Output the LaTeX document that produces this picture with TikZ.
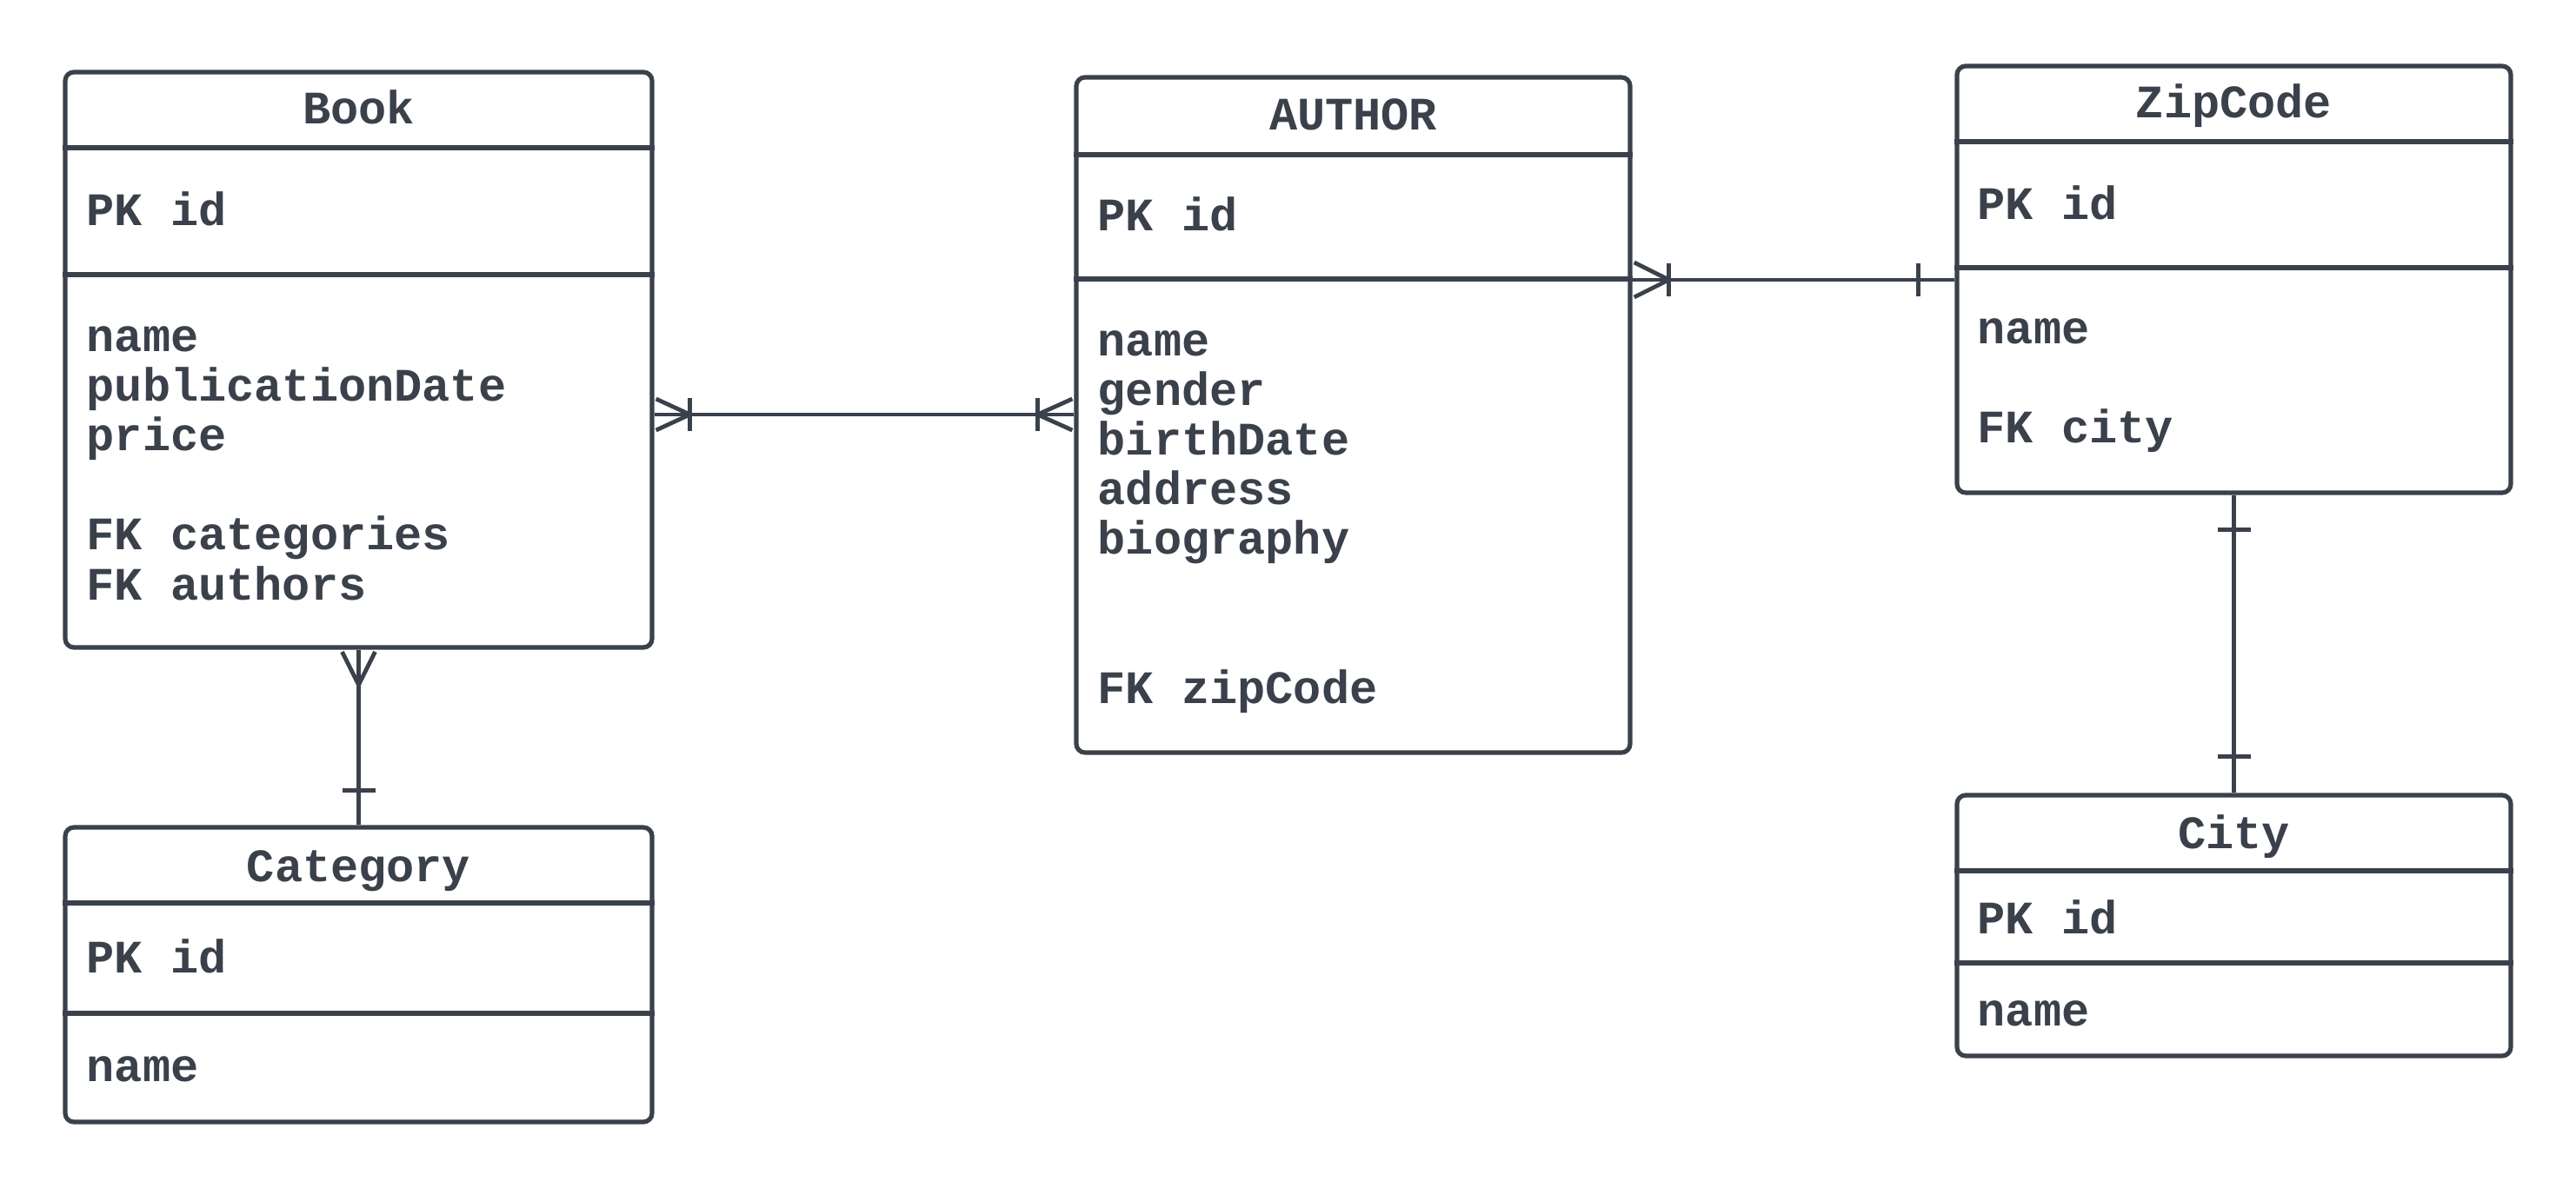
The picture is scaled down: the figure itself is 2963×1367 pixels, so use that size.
\documentclass[tikz,border=0pt]{standalone}
\usepackage{fontspec}
\setmainfont{Liberation Mono}
\usetikzlibrary{fit}
\definecolor{ink}{RGB}{58,65,75}
\tikzset{
  tbl/.style={draw=ink, line width=1.3pt, rounded corners=2.5pt, inner sep=0pt, fill=none},
  div/.style={draw=ink, line width=1.3pt},
  conn/.style={draw=ink, line width=1.2pt},
  ttl/.style={anchor=base, inner sep=0pt, text=ink, font=\bfseries\fontsize{13.4}{14.25}\selectfont},
  attr/.style={anchor=base west, inner sep=0pt, text=ink, font=\bfseries\fontsize{13.4}{14.25}\selectfont}
}
\begin{document}
\begin{tikzpicture}[x=0.25pt, y=-0.25pt]
\useasboundingbox (0,0) rectangle (2963,1367);
% tables
\node[tbl, fit={(75,83) (750,745)}] (book) {};
\node[tbl, fit={(1238,89) (1875,866)}] (author) {};
\node[tbl, fit={(2251,76) (2888,567)}] (zip) {};
\node[tbl, fit={(75,952) (750,1291)}] (cat) {};
\node[tbl, fit={(2251,915) (2888,1215)}] (city) {};
% dividers
\draw[div] (book.west |- 0,170) -- (book.east |- 0,170);
\draw[div] (book.west |- 0,316) -- (book.east |- 0,316);
\draw[div] (author.west |- 0,178) -- (author.east |- 0,178);
\draw[div] (author.west |- 0,321) -- (author.east |- 0,321);
\draw[div] (zip.west |- 0,163) -- (zip.east |- 0,163);
\draw[div] (zip.west |- 0,308) -- (zip.east |- 0,308);
\draw[div] (cat.west |- 0,1039) -- (cat.east |- 0,1039);
\draw[div] (cat.west |- 0,1166) -- (cat.east |- 0,1166);
\draw[div] (city.west |- 0,1002) -- (city.east |- 0,1002);
\draw[div] (city.west |- 0,1108) -- (city.east |- 0,1108);
% titles
\node[ttl] (bookT) at (412.5,143) {Book};
\node[ttl] (authorT) at (1556.5,150) {AUTHOR};
\node[ttl] (zipT) at (2569.5,136) {ZipCode};
\node[ttl] (catT) at (412.5,1014) {Category};
\node[ttl] (cityT) at (2569.5,976) {City};
% Book attributes
\node[attr] (bookPK) at (99,260) {PK id};
\node[attr] (bookA1) at (99,405) {name};
\node[attr] (bookA2) at (99,462) {publicationDate};
\node[attr] (bookA3) at (99,519) {price};
\node[attr] (bookA4) at (99,633) {FK categories};
\node[attr] (bookA5) at (99,690) {FK authors};
% Author attributes
\node[attr] (authPK) at (1262,266) {PK id};
\node[attr] (authA1) at (1262,410) {name};
\node[attr] (authA2) at (1262,467) {gender};
\node[attr] (authA3) at (1262,524) {birthDate};
\node[attr] (authA4) at (1262,581) {address};
\node[attr] (authA5) at (1262,638) {biography};
\node[attr] (authA6) at (1262,809) {FK zipCode};
% ZipCode attributes
\node[attr] (zipPK) at (2274,253) {PK id};
\node[attr] (zipA1) at (2274,396) {name};
\node[attr] (zipA2) at (2274,510) {FK city};
% Category attributes
\node[attr] (catPK) at (99,1119) {PK id};
\node[attr] (catA1) at (99,1244) {name};
% City attributes
\node[attr] (cityPK) at (2274,1074) {PK id};
\node[attr] (cityA1) at (2274,1180) {name};
% Book -- Author
\draw[conn] (book.east |- 0,477) coordinate (ba1) -- (author.west |- 0,477) coordinate (ba2);
\draw[conn] ([xshift=0.5pt]ba1) ++(0,-18) -- ++(39,18) -- ++(-39,18);
\draw[conn] (ba1) ++(41,-19) -- ++(0,38);
\draw[conn] ([xshift=-0.5pt]ba2) ++(0,-18) -- ++(-40,18) -- ++(40,18);
\draw[conn] (ba2) ++(-42,-19) -- ++(0,38);
% Author -- ZipCode
\draw[conn] (author.east |- 0,322) coordinate (az1) -- (zip.west |- 0,322) coordinate (az2);
\draw[conn] ([xshift=0.5pt]az1) ++(0,-20) -- ++(40,20) -- ++(-40,20);
\draw[conn] (az1) ++(42,-19) -- ++(0,38);
\draw[conn] (az2) ++(-42,-19) -- ++(0,38);
% Book -- Category
\draw[conn] (book.south) coordinate (bc1) -- (cat.north) coordinate (bc2);
\draw[conn] ([yshift=-0.6pt]bc1) ++(-19,0) -- ++(19,38) -- ++(19,-38);
\draw[conn] (bc2) ++(-19,-40) -- ++(38,0);
% ZipCode -- City
\draw[conn] (zip.south) coordinate (zc1) -- (city.north) coordinate (zc2);
\draw[conn] (zc1) ++(-19,40) -- ++(38,0);
\draw[conn] (zc2) ++(-19,-42) -- ++(38,0);
\end{tikzpicture}
\end{document}
